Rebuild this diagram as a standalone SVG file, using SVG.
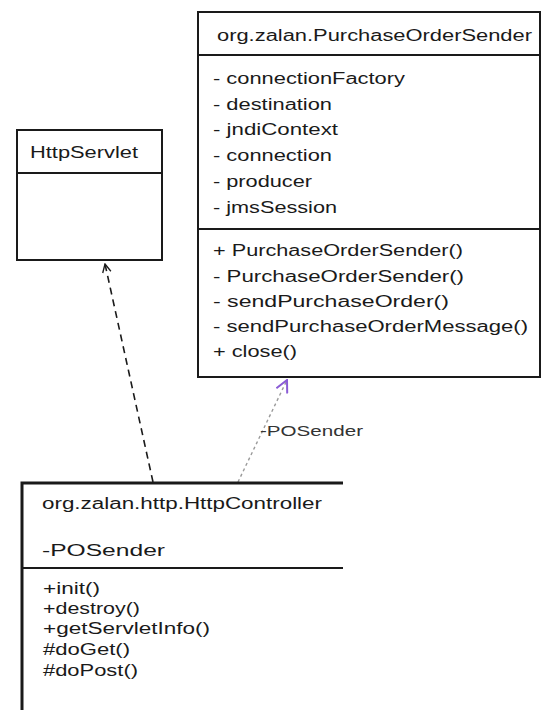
<svg xmlns="http://www.w3.org/2000/svg" width="544" height="710" viewBox="0 0 544 710">
  <style>
    .box { fill: #ffffff; stroke: #1a1a1a; stroke-width: 2; }
    .sep { stroke: #1a1a1a; stroke-width: 2; fill: none; }
    .fill { fill: #ffffff; stroke: none; }
    .t { font-family: "Liberation Sans", Arial, sans-serif; font-size: 16px; fill: #1a1a1a; }
    .lbl { font-family: "Liberation Sans", Arial, sans-serif; font-size: 15px; fill: #333333; }
    .dep { stroke: #1a1a1a; stroke-width: 1.6; stroke-dasharray: 7 5; fill: none; }
    .assoc { stroke: #9a9a9a; stroke-width: 1.4; stroke-dasharray: 3 3; fill: none; }
  </style>
  <defs>
    <marker id="openArrow" viewBox="0 0 12 12" refX="11" refY="6" markerWidth="10" markerHeight="10" markerUnits="userSpaceOnUse" orient="auto">
      <path d="M1,1 L11,6 L1,11" fill="none" stroke="#1a1a1a" stroke-width="1.6"/>
    </marker>
    <marker id="navArrow" viewBox="0 0 14 14" refX="13" refY="7" markerWidth="14" markerHeight="14" markerUnits="userSpaceOnUse" orient="auto">
      <path d="M1,1 L13,7 L1,13" fill="none" stroke="#8a5bd6" stroke-width="2"/>
    </marker>
  </defs>

  <rect width="544" height="710" fill="#ffffff"/>

  <!-- connectors -->
  <g id="connectors">
    <line class="dep" x1="153" y1="482" x2="105" y2="264" marker-end="url(#openArrow)"/>
    <line class="assoc" x1="238" y1="482" x2="287" y2="380" marker-end="url(#navArrow)"/>
    <text class="lbl" x="260" y="436" textLength="103" lengthAdjust="spacingAndGlyphs">-POSender</text>
  </g>

  <!-- superclass -->
  <g id="HttpServlet">
    <rect class="box" x="17" y="130" width="145" height="130"/>
    <line class="sep" x1="17" y1="173" x2="162" y2="173"/>
    <text class="t" x="30" y="158" textLength="108" lengthAdjust="spacingAndGlyphs">HttpServlet</text>
  </g>

  <!-- JMS sender class -->
  <g id="PurchaseOrderSender">
    <rect class="box" x="198" y="12" width="342" height="365"/>
    <line class="sep" x1="198" y1="55" x2="540" y2="55"/>
    <line class="sep" x1="198" y1="229" x2="540" y2="229"/>
    <text class="t" x="217" y="41" textLength="315" lengthAdjust="spacingAndGlyphs">org.zalan.PurchaseOrderSender</text>
    <text class="t" x="213" y="84" textLength="192" lengthAdjust="spacingAndGlyphs">- connectionFactory</text>
    <text class="t" x="213" y="110" textLength="119" lengthAdjust="spacingAndGlyphs">- destination</text>
    <text class="t" x="213" y="135" textLength="125" lengthAdjust="spacingAndGlyphs">- jndiContext</text>
    <text class="t" x="213" y="161" textLength="119" lengthAdjust="spacingAndGlyphs">- connection</text>
    <text class="t" x="213" y="187" textLength="99" lengthAdjust="spacingAndGlyphs">- producer</text>
    <text class="t" x="213" y="213" textLength="124" lengthAdjust="spacingAndGlyphs">- jmsSession</text>
    <text class="t" x="213" y="256" textLength="250" lengthAdjust="spacingAndGlyphs">+ PurchaseOrderSender()</text>
    <text class="t" x="213" y="282" textLength="251" lengthAdjust="spacingAndGlyphs">- PurchaseOrderSender()</text>
    <text class="t" x="213" y="307" textLength="236" lengthAdjust="spacingAndGlyphs">- sendPurchaseOrder()</text>
    <text class="t" x="213" y="332" textLength="315" lengthAdjust="spacingAndGlyphs">- sendPurchaseOrderMessage()</text>
    <text class="t" x="213" y="357" textLength="84" lengthAdjust="spacingAndGlyphs">+ close()</text>
  </g>

  <!-- servlet controller class (continues past the lower and right edges) -->
  <g id="HttpController">
    <rect class="fill" x="22" y="483" width="321" height="230"/>
    <path class="sep" d="M22,712 L22,483 L343,483" style="stroke-width:3"/>
    <line class="sep" x1="22" y1="568" x2="343" y2="568"/>
    <text class="t" x="42" y="509" textLength="280" lengthAdjust="spacingAndGlyphs">org.zalan.http.HttpController</text>
    <text class="t" x="42" y="556" textLength="123" lengthAdjust="spacingAndGlyphs">-POSender</text>
    <text class="t" x="43" y="594" textLength="57" lengthAdjust="spacingAndGlyphs">+init()</text>
    <text class="t" x="43" y="614" textLength="97" lengthAdjust="spacingAndGlyphs">+destroy()</text>
    <text class="t" x="43" y="634" textLength="167" lengthAdjust="spacingAndGlyphs">+getServletInfo()</text>
    <text class="t" x="43" y="655" textLength="87" lengthAdjust="spacingAndGlyphs">#doGet()</text>
    <text class="t" x="43" y="676" textLength="95" lengthAdjust="spacingAndGlyphs">#doPost()</text>
  </g>
</svg>
